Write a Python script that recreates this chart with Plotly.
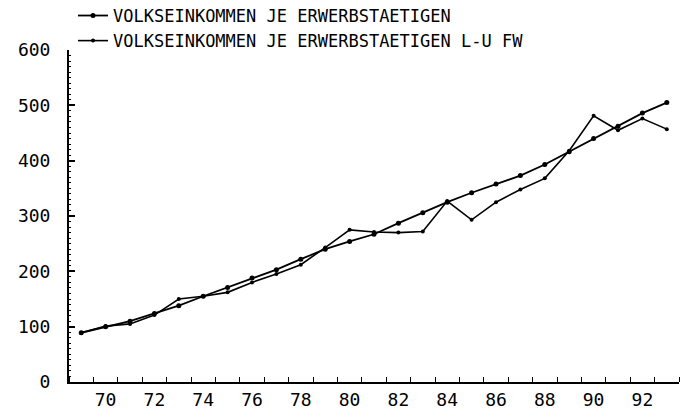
import plotly.graph_objects as go

years = list(range(1969, 1994))
volkseinkommen = [89, 100, 110, 124, 138, 155, 171, 188, 203, 222, 240, 254, 267,
                  287, 306, 325, 342, 358, 373, 393, 416, 440, 462, 486, 505]
volkseinkommen_luf = [89, 101, 105, 121, 150, 155, 162, 180, 195, 212, 243, 275, 271,
                      270, 272, 327, 293, 325, 348, 368, 418, 481, 455, 476, 457]
series_names = ["VOLKSEINKOMMEN JE ERWERBSTAETIGEN",
                "VOLKSEINKOMMEN JE ERWERBSTAETIGEN L-U FW"]
x_tick_labels = ["70", "72", "74", "76", "78", "80", "82", "84", "86", "88", "90", "92"]
x_tick_years = [1970, 1972, 1974, 1976, 1978, 1980, 1982, 1984, 1986, 1988, 1990, 1992]
y_tick_values = [0, 100, 200, 300, 400, 500, 600]

FONT = "DejaVu Sans Mono"

# data points sit at mid-year
x_mid = [y + 0.5 for y in years]

fig = go.Figure()
fig.add_trace(go.Scatter(
    x=x_mid, y=volkseinkommen, name=series_names[0],
    mode="lines+markers",
    line=dict(color="black", width=1.8),
    marker=dict(color="black", size=5, symbol="circle"),
))
fig.add_trace(go.Scatter(
    x=x_mid, y=volkseinkommen_luf, name=series_names[1],
    mode="lines+markers",
    line=dict(color="black", width=1.6),
    marker=dict(color="black", size=4, symbol="circle"),
))

fig.update_layout(
    width=686, height=410,
    margin=dict(l=69, r=7, t=50, b=28, autoexpand=False),
    paper_bgcolor="white", plot_bgcolor="white",
    font=dict(family=FONT, size=17, color="black"),
    showlegend=True,
    legend=dict(
        x=0.0066, y=0.973, xanchor="left", yanchor="bottom",
        xref="paper", yref="paper",
        bgcolor="rgba(0,0,0,0)", borderwidth=0,
        font=dict(family=FONT, size=17, color="black"),
        tracegroupgap=0, itemwidth=30,
    ),
)

fig.update_xaxes(
    range=[1969, 1994],
    tickmode="array",
    tickvals=[y + 0.5 for y in x_tick_years],
    ticktext=x_tick_labels,
    ticks="",
    showgrid=False, zeroline=False,
    showline=True, linecolor="black", linewidth=2,
    minor=dict(tickmode="linear", tick0=1969, dtick=1, ticks="inside",
               ticklen=5, tickcolor="black", tickwidth=1, showgrid=False),
    tickfont=dict(family=FONT, size=18, color="black"),
)
fig.update_yaxes(
    range=[0, 600],
    tickmode="array", tickvals=y_tick_values,
    ticktext=[str(v) for v in y_tick_values],
    ticks="inside", ticklen=6, tickwidth=1.5, tickcolor="black",
    ticklabelstandoff=13,
    showgrid=False, zeroline=False,
    showline=True, linecolor="black", linewidth=2,
    minor=dict(tickmode="linear", tick0=0, dtick=10, ticks="inside",
               ticklen=2, tickcolor="black", tickwidth=1, showgrid=False),
    tickfont=dict(family=FONT, size=18, color="black"),
)

fig.write_html("out.html", config={"displayModeBar": False},
               post_script="document.body.style.margin='0px';")
